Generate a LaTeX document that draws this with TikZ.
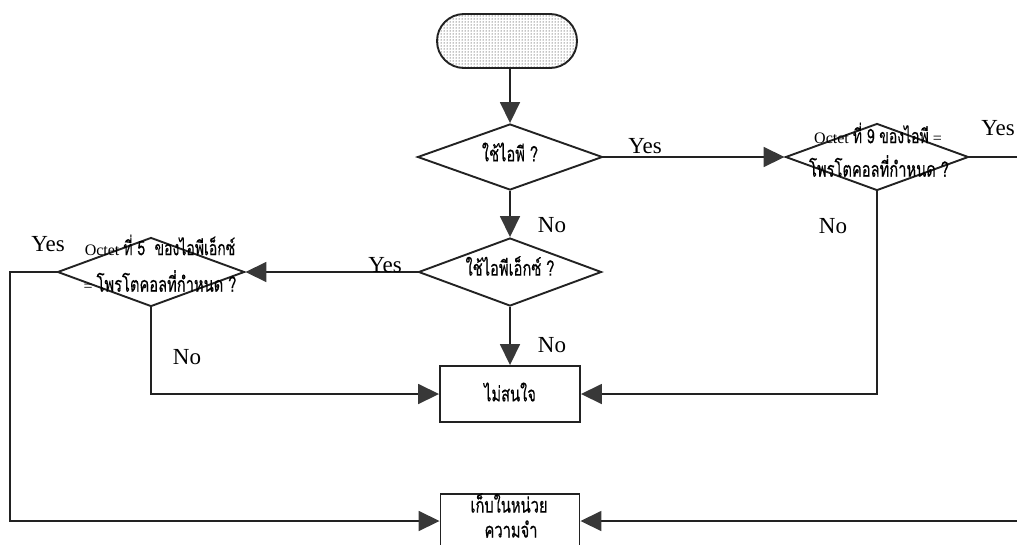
\documentclass[tikz,border=0pt]{standalone}
\usepackage{fontspec}
\setmainfont{Liberation Serif}
\newfontfamily\thaifont[Script=Thai, FakeStretch=0.7, FakeBold=0.3]{Loma}
\usetikzlibrary{shapes.geometric,arrows.meta,patterns}
\definecolor{ink}{HTML}{222222}
\definecolor{headfill}{HTML}{383838}
\begin{document}
\begin{tikzpicture}[x=1pt,y=-1pt,
  shapeline/.style={draw=ink, line width=1.9pt},
  decision/.style={shapeline, diamond, inner sep=0pt},
  procbox/.style={shapeline, rectangle, inner sep=0pt},
  flow/.style={draw=ink, line width=1.7pt, -{Triangle[length=21pt,width=20pt,color=headfill]}},
  answer/.style={font=\fontsize{23}{25}\selectfont, inner sep=0pt},
  thaitext/.style={font=\thaifont\fontsize{21}{23}\selectfont, inner sep=0pt},
  smalltext/.style={font=\fontsize{16}{18}\selectfont, inner sep=0pt}
]
\useasboundingbox (0,0) rectangle (1017,544);
\clip (0,0) rectangle (1017,544);

% start terminal
\node (start) at (507,41) [shapeline, rounded corners=27pt, minimum width=140pt,
  minimum height=54pt, pattern=dots, pattern color=black] {};

% decisions
\node (d1) at (510,157) [decision, minimum width=185pt, minimum height=66pt] {};
\node (d2) at (877,157) [decision, minimum width=183pt, minimum height=67pt] {};
\node (d3) at (510,272) [decision, minimum width=183pt, minimum height=68pt] {};
\node (d4) at (151,272) [decision, minimum width=187pt, minimum height=69pt] {};

% process boxes
\node (b1) at (510,394) [procbox, minimum width=140pt, minimum height=56pt] {};
\node (b2) at (510,521) [procbox, minimum width=139pt, minimum height=54pt] {};

% texts inside the shapes
\node (t1) at (510,152) [thaitext] {ใช้ไอพี ?};
\node (t2a) at (878,133) [smalltext] {Octet {\thaifont\fontsize{20}{22}\selectfont ที่ 9 ของไอพี} =};
\node (t2b) at (879,166) [thaitext] {โพรโตคอลที่กำหนด ?};
\node (t3) at (510,266) [thaitext] {ใช้ไอพีเอ็กซ์ ?};
\node (t4a) at (160,245) [smalltext] {Octet {\thaifont\fontsize{20}{22}\selectfont ที่ 5\ \ ของไอพีเอ็กซ์}};
\node (t4b) at (160,281) [smalltext] {= {\thaifont\fontsize{21}{23}\selectfont โพรโตคอลที่กำหนด ?}};
\node (t5) at (510,392) [thaitext] {ไม่สนใจ};
\node (t6a) at (509,503) [thaitext] {เก็บในหน่วย};
\node (t6b) at (511,529) [thaitext] {ความจำ};

% turning points outside the shapes
\coordinate (rt) at (1022,157);
\coordinate (lf) at (10,272);

% connectors
\draw[flow] (d1.north |- start.south) -- (d1.north);
\draw[flow] (d1.east) -- (d2.west);
\draw[flow] (d1.south) -- (d3.north);
\draw[flow] (d3.west) -- (d4.east);
\draw[flow] (d3.south) -- (b1.north);
\draw[flow] (d2.south) |- (b1.east);
\draw[flow] (d4.south) |- (b1.west);
\draw[flow] (d4.west) -- (lf) |- (b2.west);
\draw[flow] (d2.east) -- (rt) |- (b2.east);

% branch labels
\node (y1) at (645,146) [answer] {Yes};
\node (y2) at (998,128) [answer] {Yes};
\node (y3) at (385,265) [answer] {Yes};
\node (y4) at (48,244) [answer] {Yes};
\node (n1) at (552,225) [answer] {No};
\node (n2) at (833,226) [answer] {No};
\node (n3) at (552,345) [answer] {No};
\node (n4) at (187,357) [answer] {No};
\end{tikzpicture}
\end{document}
